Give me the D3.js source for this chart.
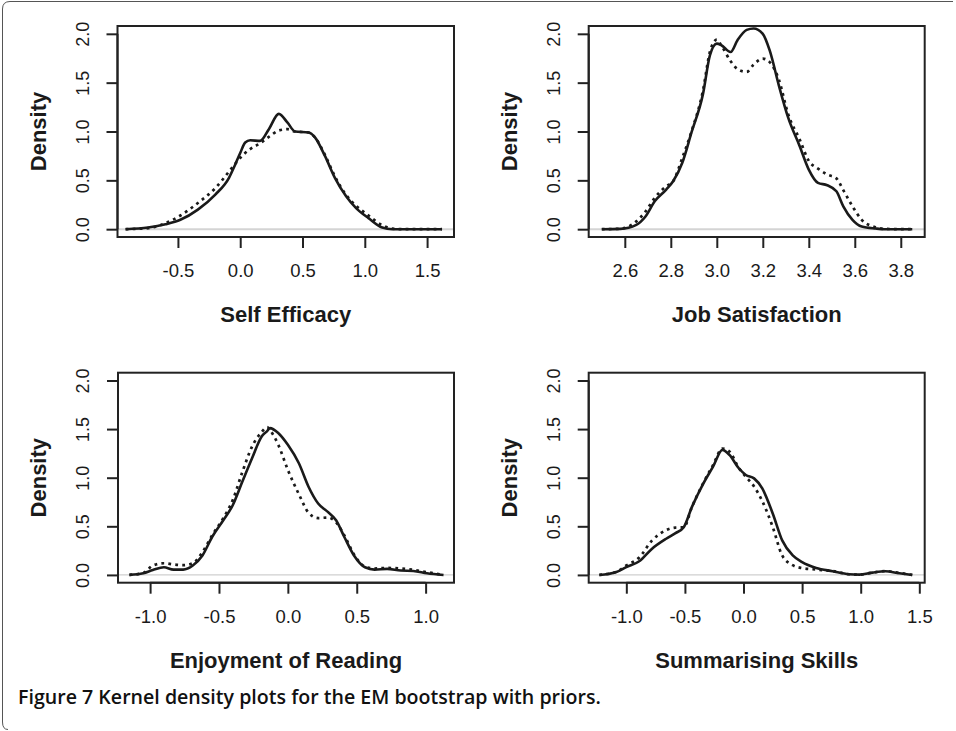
<!DOCTYPE html>
<html>
<head>
<meta charset="utf-8">
<script src="https://cdn.jsdelivr.net/npm/d3@7"></script>
<style>
  html, body { margin: 0; padding: 0; background: #fff; }
  svg { display: block; }
</style>
</head>
<body>
<svg id="chart" width="956" height="731"></svg>
<script>
// ---------------- DATA ----------------
const panelTitles = ["Self Efficacy", "Job Satisfaction", "Enjoyment of Reading", "Summarising Skills"];
const yTicks = [0.0, 0.5, 1.0, 1.5, 2.0];

// Self Efficacy
const seTicks = [-0.5, 0.0, 0.5, 1.0, 1.5];
const seX      = [-0.92,-0.74,-0.60,-0.48,-0.34,-0.20,-0.09,-0.04,0.00,0.04,0.08,0.16,0.23,0.31,0.38,0.44,0.55,0.60,0.68,0.76,0.85,0.93,1.03,1.14,1.22,1.30,1.46,1.62];
const seSolid  = [0,0.017,0.05,0.096,0.20,0.354,0.526,0.663,0.78,0.887,0.91,0.904,1.024,1.18,1.09,1.00,0.99,0.94,0.75,0.526,0.337,0.216,0.113,0.017,0.0,0,0,0];
const seDotted = [0,0.01,0.062,0.14,0.268,0.42,0.59,0.67,0.73,0.78,0.82,0.88,0.945,1.01,1.024,1.00,0.99,0.94,0.76,0.54,0.35,0.24,0.14,0.04,0.005,0,0,0];

// Job Satisfaction
const jsTicks = [2.6, 2.8, 3.0, 3.2, 3.4, 3.6, 3.8];
const jsX      = [2.50,2.58,2.65,2.69,2.73,2.78,2.81,2.85,2.89,2.94,2.97,3.00,3.02,3.06,3.09,3.13,3.16,3.20,3.23,3.27,3.31,3.36,3.40,3.44,3.48,3.52,3.55,3.59,3.63,3.69,3.73,3.85];
const jsSolid  = [0,0.003,0.045,0.13,0.285,0.405,0.49,0.68,0.99,1.385,1.78,1.90,1.883,1.814,1.935,2.04,2.055,2.00,1.83,1.47,1.144,0.852,0.61,0.474,0.45,0.388,0.234,0.096,0.027,0.007,0,0];
const jsDotted = [0,0.005,0.08,0.18,0.32,0.44,0.49,0.73,1.00,1.42,1.815,1.94,1.88,1.72,1.64,1.61,1.685,1.746,1.71,1.53,1.18,0.92,0.70,0.62,0.56,0.52,0.40,0.234,0.096,0.02,0.003,0];

// Enjoyment of Reading
const erTicks = [-1.0, -0.5, 0.0, 0.5, 1.0];
const erX      = [-1.15,-1.05,-0.98,-0.90,-0.83,-0.76,-0.69,-0.62,-0.55,-0.47,-0.40,-0.33,-0.26,-0.19,-0.15,-0.13,-0.07,0.00,0.08,0.15,0.22,0.29,0.35,0.41,0.48,0.56,0.63,0.72,0.82,0.91,1.01,1.13];
const erSolid  = [0,0.017,0.05,0.079,0.055,0.055,0.097,0.20,0.39,0.56,0.717,0.96,1.20,1.424,1.48,1.51,1.46,1.338,1.148,0.907,0.734,0.648,0.562,0.39,0.20,0.079,0.055,0.062,0.045,0.041,0.017,0];
const erDotted = [0,0.02,0.097,0.12,0.107,0.10,0.12,0.234,0.407,0.58,0.77,1.06,1.32,1.47,1.52,1.49,1.34,1.08,0.83,0.64,0.585,0.59,0.54,0.407,0.21,0.086,0.066,0.072,0.066,0.052,0.028,0];

// Summarising Skills
const ssTicks = [-1.0, -0.5, 0.0, 0.5, 1.0, 1.5];
const ssX      = [-1.23,-1.09,-1.00,-0.89,-0.78,-0.66,-0.58,-0.51,-0.44,-0.35,-0.26,-0.18,-0.12,-0.04,0.02,0.09,0.16,0.25,0.33,0.42,0.50,0.62,0.76,0.90,0.99,1.10,1.21,1.33,1.44];
const ssSolid  = [0,0.028,0.08,0.14,0.27,0.372,0.43,0.49,0.70,0.924,1.114,1.286,1.234,1.097,1.028,0.993,0.89,0.63,0.355,0.20,0.131,0.072,0.038,0.007,0.003,0.024,0.038,0.017,0];
const ssDotted = [0,0.03,0.097,0.18,0.355,0.46,0.487,0.49,0.70,0.93,1.13,1.30,1.27,1.10,1.01,0.91,0.76,0.49,0.20,0.10,0.07,0.055,0.04,0.007,0.003,0.024,0.04,0.02,0];

const caption = "Figure 7 Kernel density plots for the EM bootstrap with priors.";

// ---------------- LAYOUT ----------------
const panels = [
  { title: panelTitles[0], ticks: seTicks, x: seX, solid: seSolid, dotted: seDotted,
    box: { l: 117.5, r: 454, t: 26, b: 237 }, xdom: [-0.985, 1.716], zeroW: 2, zeroC: "#d4d4d4" },
  { title: panelTitles[1], ticks: jsTicks, x: jsX, solid: jsSolid, dotted: jsDotted,
    box: { l: 588.7, r: 924.7, t: 26, b: 237 }, xdom: [2.443, 3.904], zeroW: 2, zeroC: "#d4d4d4" },
  { title: panelTitles[2], ticks: erTicks, x: erX, solid: erSolid, dotted: erDotted,
    box: { l: 118, r: 454, t: 372.7, b: 582.7 }, xdom: [-1.233, 1.206], zeroW: 1.2, zeroC: "#cfcfcf" },
  { title: panelTitles[3], ticks: ssTicks, x: ssX, solid: ssSolid, dotted: ssDotted,
    box: { l: 588.7, r: 924.7, t: 372.7, b: 582.7 }, xdom: [-1.321, 1.546], zeroW: 1.2, zeroC: "#cfcfcf" }
];

const svg = d3.select("#chart");
const FONT = "'Liberation Sans', Arial, Helvetica, sans-serif";
const INK = "#1a1a1a";

// outer frame (left + top, rounded corners)
svg.append("path")
  .attr("d", "M953,1.5 H10 Q2.5,1.5 2.5,9 V722 Q2.5,729.5 8,729.5")
  .attr("fill", "none").attr("stroke", "#555").attr("stroke-width", 1);

panels.forEach(p => {
  const b = p.box;
  const x = d3.scaleLinear().domain(p.xdom).range([b.l, b.r]);
  const y = d3.scaleLinear().domain([-0.08, 2.08]).range([b.b, b.t]);
  const g = svg.append("g");

  // zero reference line
  g.append("line")
    .attr("x1", b.l).attr("x2", b.r)
    .attr("y1", y(0)).attr("y2", y(0))
    .attr("stroke", p.zeroC).attr("stroke-width", p.zeroW);

  const pts = p.x.map((v, i) => i);
  const lineSolid = d3.line().x(i => x(p.x[i])).y(i => y(p.solid[i])).curve(d3.curveMonotoneX);
  const lineDot = d3.line().x(i => x(p.x[i])).y(i => y(p.dotted[i])).curve(d3.curveMonotoneX);

  g.append("path").attr("d", lineDot(pts))
    .attr("fill", "none").attr("stroke", INK).attr("stroke-width", 2.7)
    .attr("stroke-dasharray", "2.8,4.2");
  g.append("path").attr("d", lineSolid(pts))
    .attr("fill", "none").attr("stroke", INK).attr("stroke-width", 2.6)
    .attr("stroke-linejoin", "round");

  // box
  g.append("rect")
    .attr("x", b.l).attr("y", b.t)
    .attr("width", b.r - b.l).attr("height", b.b - b.t)
    .attr("fill", "none").attr("stroke", "#222").attr("stroke-width", 2);

  // x axis
  const xAxis = d3.axisBottom(x).tickValues(p.ticks).tickSize(11).tickPadding(12)
    .tickFormat(d3.format(".1f"));
  const gx = g.append("g").attr("transform", `translate(0,${b.b})`).call(xAxis);
  gx.select(".domain").attr("d", `M${x(p.ticks[0])},0H${x(p.ticks[p.ticks.length - 1])}`)
    .attr("stroke", "#222").attr("stroke-width", 2);
  gx.selectAll(".tick line").attr("stroke", "#222").attr("stroke-width", 2);
  gx.selectAll(".tick text")
    .attr("font-family", FONT).attr("font-size", 18.5).attr("fill", INK)
    .attr("dy", null).attr("y", 40).attr("dominant-baseline", "auto")
    .text(d => d3.format(".1f")(d).replace("−", "-"));

  // y axis
  const yAxis = d3.axisLeft(y).tickValues(yTicks).tickSize(11).tickFormat(d3.format(".1f"));
  const gy = g.append("g").attr("transform", `translate(${b.l},0)`).call(yAxis);
  gy.select(".domain").attr("d", `M0,${y(0)}V${y(2)}`).attr("stroke", "#222").attr("stroke-width", 2);
  gy.selectAll(".tick line").attr("stroke", "#222").attr("stroke-width", 2);
  gy.selectAll(".tick text").remove();
  gy.selectAll(".tick").append("text")
    .attr("transform", "translate(-29,0) rotate(-90)")
    .attr("text-anchor", "middle")
    .attr("font-family", FONT).attr("font-size", 18).attr("fill", INK)
    .text(d => d3.format(".1f")(d));

  // axis titles
  g.append("text")
    .attr("x", (b.l + b.r) / 2).attr("y", b.b + 85)
    .attr("text-anchor", "middle")
    .attr("font-family", FONT).attr("font-size", 22).attr("font-weight", "bold").attr("fill", INK)
    .text(p.title);
  g.append("text")
    .attr("transform", `translate(${b.l - 72},${(b.t + b.b) / 2}) rotate(-90)`)
    .attr("text-anchor", "middle")
    .attr("font-family", FONT).attr("font-size", 22).attr("font-weight", "bold").attr("fill", INK)
    .text("Density");
});

// caption
svg.append("text")
  .attr("x", 18).attr("y", 704)
  .attr("font-family", "'Open Sans', 'Noto Sans', sans-serif")
  .attr("font-size", 19.6).attr("font-weight", 600).attr("fill", "#111")
  .text(caption);
</script>
</body>
</html>
